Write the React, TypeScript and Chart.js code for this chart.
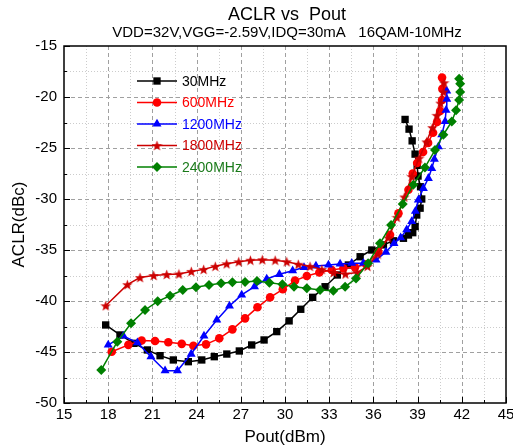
import { useEffect, useRef } from 'react';
import { Chart, registerables } from 'chart.js';
import { drawPoint } from 'chart.js/helpers';

Chart.register(...registerables);

const titleText = 'ACLR vs  Pout';
const subtitleText = 'VDD=32V,VGG=-2.59V,IDQ=30mA   16QAM-10MHz';
const xTitle = 'Pout(dBm)';
const yTitle = 'ACLR(dBc)';

const seriesLabels = ['30MHz', '600MHz', '1200MHz', '1800MHz', '2400MHz'];

const pout30 = [17.83, 18.8, 19.75, 20.66, 21.52, 22.42, 23.44, 24.35, 25.2, 26.05, 26.9, 27.74, 28.58, 29.44, 30.28, 31.07, 31.88, 32.72, 33.55, 34.3, 35.1, 35.89, 36.68, 37.36, 38.04, 38.38, 38.67, 38.83, 38.94, 39.17, 39.28, 39.2, 39.03, 38.97, 38.83, 38.63, 38.42, 38.15];
const aclr30 = [-42.35, -43.33, -44.15, -44.8, -45.36, -45.78, -45.95, -45.78, -45.46, -45.2, -44.9, -44.31, -43.82, -43.0, -41.95, -40.81, -39.64, -38.6, -37.45, -36.47, -35.66, -35.0, -34.5, -34.1, -33.85, -33.53, -33.3, -32.7, -31.57, -30.9, -30.0, -28.8, -27.75, -26.7, -25.6, -24.3, -23.15, -22.2];

const pout600 = [18.24, 19.37, 20.27, 21.18, 22.08, 22.99, 23.78, 24.64, 25.54, 26.43, 27.29, 28.13, 28.99, 29.85, 30.68, 31.48, 32.33, 33.17, 33.96, 34.75, 35.5, 36.34, 37.13, 37.7, 38.38, 38.67, 38.97, 39.37, 39.71, 40.05, 40.32, 40.53, 40.66, 40.68, 40.66];
const aclr600 = [-44.97, -44.3, -43.88, -43.92, -44.05, -44.2, -44.38, -44.25, -43.66, -42.78, -41.7, -40.62, -39.64, -38.85, -38.0, -37.55, -37.2, -36.96, -36.8, -36.7, -36.4, -35.2, -33.5, -31.4, -29.1, -27.5, -26.47, -25.4, -24.5, -23.5, -22.45, -21.37, -20.3, -19.2, -18.1];

const pout1200 = [18.0, 19.03, 19.98, 20.9, 21.86, 22.7, 23.63, 24.5, 25.37, 26.23, 27.06, 27.93, 28.76, 29.62, 30.52, 31.29, 32.1, 32.95, 33.74, 34.53, 35.32, 36.18, 36.85, 37.4, 37.85, 38.26, 38.6, 38.85, 39.05, 39.39, 39.73, 39.96, 40.14, 40.41, 40.64, 40.87, 40.93, 40.98, 40.98];
const aclr1200 = [-44.3, -43.43, -44.08, -45.46, -46.83, -46.83, -45.2, -43.43, -41.86, -40.49, -39.4, -38.6, -37.84, -37.38, -37.03, -36.7, -36.57, -36.47, -36.37, -36.3, -36.3, -35.98, -35.2, -34.35, -33.8, -33.0, -32.2, -31.2, -30.1, -28.95, -27.97, -27.0, -26.1, -24.87, -23.7, -22.4, -21.3, -20.2, -19.4];

const pout1800 = [17.83, 19.3, 20.16, 21.09, 21.97, 22.8, 23.64, 24.48, 25.27, 26.04, 26.86, 27.65, 28.46, 29.33, 30.12, 30.9, 31.7, 32.5, 33.3, 34.1, 34.9, 35.6, 36.3, 37.0, 37.6, 38.1, 38.6, 39.1, 39.6, 40.0, 40.3, 40.55, 40.75, 40.8];
const aclr1800 = [-40.46, -38.4, -37.7, -37.5, -37.4, -37.35, -37.1, -36.9, -36.6, -36.35, -36.15, -36.0, -35.95, -36.0, -36.15, -36.4, -36.6, -36.9, -37.2, -37.35, -37.2, -36.6, -35.4, -33.8, -31.8, -29.8, -27.8, -26.0, -24.4, -23.0, -21.8, -20.6, -19.5, -18.6];

const pout2400 = [17.53, 18.62, 19.55, 20.5, 21.36, 22.2, 23.06, 23.96, 24.84, 25.66, 26.43, 27.29, 28.1, 28.94, 29.82, 30.61, 31.48, 32.38, 33.28, 34.08, 34.82, 35.64, 36.45, 37.2, 37.99, 38.71, 39.5, 40.18, 40.75, 41.32, 41.61, 41.82, 41.89, 41.89, 41.82];
const aclr2400 = [-46.76, -43.99, -42.19, -40.88, -40.03, -39.48, -38.92, -38.66, -38.43, -38.27, -38.17, -38.14, -38.04, -38.2, -38.37, -38.6, -38.75, -38.92, -38.99, -38.6, -37.8, -36.3, -34.35, -32.55, -30.5, -28.6, -26.9, -25.2, -23.7, -22.4, -21.3, -20.3, -19.5, -18.7, -18.2];

const xMin = 15;
const xMax = 45;
const xStep = 3;
const yMin = -50;
const yMax = -15;
const yStep = 5;

const FONT = 'Arial, "Liberation Sans", sans-serif';

function makeStar(color: string, size: number) {
  const c = document.createElement('canvas');
  c.width = size;
  c.height = size;
  const g = c.getContext('2d')!;
  const cx = size / 2;
  const cy = size / 2 + 0.5;
  const R = size / 2;
  const r = R * 0.42;
  g.beginPath();
  for (let i = 0; i < 10; i++) {
    const ang = -Math.PI / 2 + (i * Math.PI) / 5;
    const rad = i % 2 === 0 ? R : r;
    const px = cx + rad * Math.cos(ang);
    const py = cy + rad * Math.sin(ang);
    if (i === 0) g.moveTo(px, py);
    else g.lineTo(px, py);
  }
  g.closePath();
  g.fillStyle = color;
  g.fill();
  return c;
}

const zip = (xs: number[], ys: number[]) => xs.map((x, i) => ({ x, y: ys[i] }));

export default function App() {
  const ref = useRef<HTMLCanvasElement>(null);

  useEffect(() => {
    const canvas = ref.current!;
    const star = makeStar('#CC0000', 11);

    const styles = [
      { color: '#000000', pointStyle: 'rect', radius: 5.2 },
      { color: '#FF0000', pointStyle: 'circle', radius: 4.3 },
      { color: '#0000FF', pointStyle: 'triangle', radius: 5.2 },
      { color: '#CC0000', pointStyle: star as any, radius: 5 },
      { color: '#008000', pointStyle: 'rectRot', radius: 5 },
    ];
    const xs = [pout30, pout600, pout1200, pout1800, pout2400];
    const ys = [aclr30, aclr600, aclr1200, aclr1800, aclr2400];

    const datasets = seriesLabels.map((label, i) => ({
      label,
      data: zip(xs[i], ys[i]),
      showLine: true,
      borderColor: styles[i].color,
      backgroundColor: styles[i].color,
      borderWidth: 1.5,
      pointStyle: styles[i].pointStyle,
      pointRadius: styles[i].radius,
      pointBorderWidth: 0,
      pointBackgroundColor: styles[i].color,
      pointBorderColor: styles[i].color,
      order: 5 - i,
    }));

    const frame = {
      id: 'frame',
      beforeDatasetsDraw(chart: any) {
        const { ctx, chartArea: ca } = chart;
        const sx = chart.scales.x;
        const sy = chart.scales.y;
        ctx.save();
        ctx.lineWidth = 1;
        // minor dotted
        ctx.strokeStyle = '#cccccc';
        ctx.setLineDash([1, 2]);
        for (let v = xMin + xStep / 2; v < xMax; v += xStep) {
          const p = Math.round(sx.getPixelForValue(v)) + 0.5;
          ctx.beginPath(); ctx.moveTo(p, ca.top); ctx.lineTo(p, ca.bottom); ctx.stroke();
        }
        for (let v = yMin + yStep / 2; v < yMax; v += yStep) {
          const p = Math.round(sy.getPixelForValue(v)) + 0.5;
          ctx.beginPath(); ctx.moveTo(ca.left, p); ctx.lineTo(ca.right, p); ctx.stroke();
        }
        // major dashed
        ctx.strokeStyle = '#a0a0a0';
        ctx.setLineDash([4, 3]);
        for (let v = xMin + xStep; v < xMax; v += xStep) {
          const p = Math.round(sx.getPixelForValue(v)) + 0.5;
          ctx.beginPath(); ctx.moveTo(p, ca.top); ctx.lineTo(p, ca.bottom); ctx.stroke();
        }
        for (let v = yMin + yStep; v < yMax; v += yStep) {
          const p = Math.round(sy.getPixelForValue(v)) + 0.5;
          ctx.beginPath(); ctx.moveTo(ca.left, p); ctx.lineTo(ca.right, p); ctx.stroke();
        }
        ctx.restore();
      },
      afterDraw(chart: any) {
        const { ctx, chartArea: ca } = chart;
        const sx = chart.scales.x;
        const sy = chart.scales.y;
        ctx.save();
        ctx.setLineDash([]);
        ctx.strokeStyle = '#000';
        ctx.lineWidth = 1.5;
        ctx.strokeRect(ca.left, ca.top, ca.right - ca.left, ca.bottom - ca.top);
        ctx.lineWidth = 1;
        // inward ticks
        for (let v = xMin; v <= xMax + 1e-6; v += xStep / 2) {
          const major = Math.abs((v - xMin) % xStep) < 1e-6;
          const p = Math.round(sx.getPixelForValue(v)) + 0.5;
          ctx.beginPath(); ctx.moveTo(p, ca.bottom); ctx.lineTo(p, ca.bottom - (major ? 6 : 3)); ctx.stroke();
        }
        for (let v = yMin; v <= yMax + 1e-6; v += yStep / 2) {
          const major = Math.abs((v - yMin) % yStep) < 1e-6;
          const p = Math.round(sy.getPixelForValue(v)) + 0.5;
          ctx.beginPath(); ctx.moveTo(ca.left, p); ctx.lineTo(ca.left + (major ? 6 : 3), p); ctx.stroke();
        }
        // titles
        const cx = (ca.left + ca.right) / 2 + 2;
        ctx.fillStyle = '#000';
        ctx.textAlign = 'center';
        ctx.textBaseline = 'middle';
        ctx.font = `18px ${FONT}`;
        ctx.fillText(titleText, cx, 15);
        ctx.font = `15px ${FONT}`;
        ctx.fillText(subtitleText, cx, 33);
        // legend
        ctx.font = `14px ${FONT}`;
        ctx.textAlign = 'left';
        for (let i = 0; i < seriesLabels.length; i++) {
          const y = ca.top + 35 + i * 21.5;
          const x0 = ca.left + 73;
          ctx.strokeStyle = styles[i].color;
          ctx.fillStyle = styles[i].color;
          ctx.lineWidth = 1.5;
          ctx.beginPath(); ctx.moveTo(x0, y); ctx.lineTo(x0 + 40, y); ctx.stroke();
          drawPoint(ctx, { pointStyle: styles[i].pointStyle, radius: styles[i].radius, rotation: 0, borderWidth: 0 } as any, x0 + 20, y);
          ctx.fillStyle = styles[i].color === '#008000' ? '#1a7a1a' : styles[i].color;
          ctx.fillText(seriesLabels[i], x0 + 45, y + 1);
        }
        ctx.restore();
      },
    };

    const chart = new Chart(canvas, {
      type: 'scatter',
      data: { datasets: datasets as any },
      options: {
        responsive: false,
        animation: false,
        devicePixelRatio: 1,
        layout: { padding: { top: 46, right: 7, bottom: 0, left: 0 } },
        plugins: { legend: { display: false }, tooltip: { enabled: false }, title: { display: false } },
        scales: {
          x: {
            type: 'linear',
            min: xMin,
            max: xMax,
            ticks: { stepSize: xStep, color: '#000', font: { size: 15, family: FONT }, padding: 3, maxRotation: 0 },
            grid: { display: false, drawTicks: false },
            border: { display: false },
            title: { display: true, text: xTitle, color: '#000', font: { size: 17, family: FONT }, padding: { top: 0, bottom: 0 } },
            afterFit: (s: any) => { s.height = 45; s.paddingLeft = 0; s.paddingRight = 0; },
          },
          y: {
            type: 'linear',
            min: yMin,
            max: yMax,
            ticks: { stepSize: yStep, color: '#000', font: { size: 15, family: FONT }, padding: 7 },
            grid: { display: false, drawTicks: false },
            border: { display: false },
            title: { display: true, text: yTitle, color: '#000', font: { size: 17, family: FONT }, padding: { top: 9, bottom: 0 } },
            afterFit: (s: any) => { s.width = 64; },
          },
        },
      } as any,
      plugins: [frame],
    });
    return () => chart.destroy();
  }, []);

  return (
    <div style={{ position: 'absolute', left: 0, top: 0, width: 513, height: 448, background: '#fff' }}>
      <canvas ref={ref} width={513} height={448} style={{ display: 'block' }} />
    </div>
  );
}
